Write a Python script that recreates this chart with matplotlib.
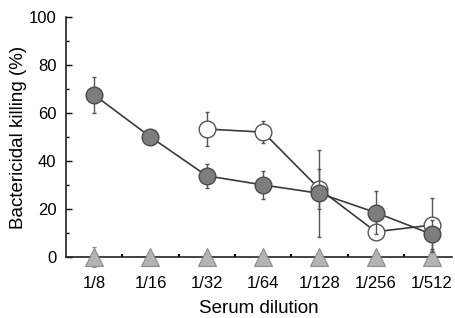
import numpy as np
import matplotlib.pyplot as plt
from matplotlib.ticker import MultipleLocator, FixedLocator

plt.rcParams['font.family'] = ['Liberation Sans', 'DejaVu Sans']

# dilutions on the x axis
dilutions = ['1/8', '1/16', '1/32', '1/64', '1/128', '1/256', '1/512']

# filled circles (all dilutions)
filled_y = [67.5, 50, 33.8, 30, 26.5, 18.5, 9.4]
filled_err = [7.5, 1, 5, 6, 18, 9, 6]

# open circles (from 1/32 on)
open_idx = [2, 3, 4, 5, 6]
open_y = [53.3, 52, 28.3, 10.5, 13.3]
open_err = [7, 4.5, 8.3, 1, 11.3]

# triangles, all at zero
tri_y = [0, 0, 0, 0, 0, 0, 0]
tri_err = [4, 0.5, 0.5, 0.5, 0.5, 0.5, 0.5]

x = np.arange(len(dilutions))

fig = plt.figure(figsize=(4.55, 3.18), dpi=100)
ax = fig.add_axes([0.145, 0.192, 0.848, 0.7547])

lc = '#3a3a3a'

# triangles
ax.errorbar(x, tri_y, yerr=tri_err, fmt='^', ms=13, mfc='#b4b4b4', mec='#8a8a8a',
            mew=0.8, ecolor='#8a8a8a', elinewidth=1, capsize=1.5, clip_on=False, zorder=3)

# open circles
ax.errorbar(x[open_idx], open_y, yerr=open_err, fmt='-o', ms=12, mfc='white', mec='#555555',
            mew=1, color=lc, lw=1.2, ecolor='#555555', elinewidth=1, capsize=1.5,
            clip_on=False, zorder=4)

# filled circles
ax.errorbar(x, filled_y, yerr=filled_err, fmt='-o', ms=12, mfc='#7d7d7d', mec='#4a4a4a',
            mew=1, color=lc, lw=1.2, ecolor='#555555', elinewidth=1, capsize=1.5,
            clip_on=False, zorder=5)

ax.set_xlim(-0.5, 6.35)
ax.set_ylim(0, 100)
ax.set_xticks(x)
ax.set_xticklabels(dilutions)
ax.xaxis.set_minor_locator(FixedLocator(x[:-1] + 0.5))
ax.yaxis.set_major_locator(MultipleLocator(20))
ax.yaxis.set_minor_locator(MultipleLocator(10))

for s in ['top', 'right']:
    ax.spines[s].set_visible(False)
for s in ['left', 'bottom']:
    ax.spines[s].set_color('#222222')
    ax.spines[s].set_linewidth(1.2)

ax.tick_params(axis='y', which='major', direction='in', length=4, width=1, labelsize=12, pad=7)
ax.tick_params(axis='y', which='minor', direction='in', length=2, width=1)
ax.tick_params(axis='x', which='major', direction='in', length=3, width=1, labelsize=12, pad=14)
ax.tick_params(axis='x', which='minor', direction='in', length=2, width=1.5)

ax.set_xlabel('Serum dilution', fontsize=13.5, labelpad=6)
ax.set_ylabel('Bactericidal killing (%)', fontsize=13.5, labelpad=1)

fig.savefig('out.png', dpi=100)
